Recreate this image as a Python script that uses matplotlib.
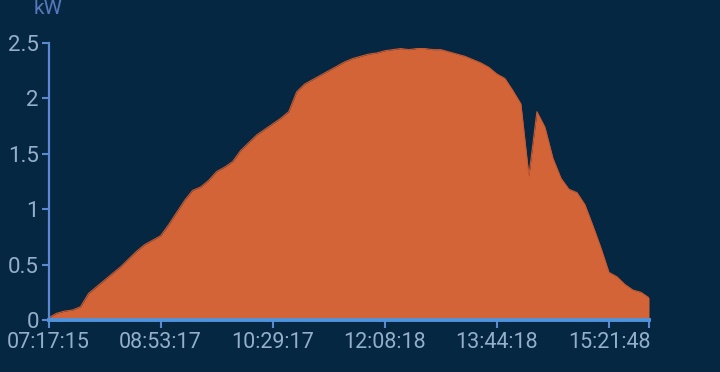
import matplotlib
matplotlib.use("Agg")
import matplotlib.pyplot as plt
import numpy as np

# power readings (kW), one per sample; labels every 14 samples
power_kw = [
    0.02, 0.06, 0.08, 0.09, 0.12, 0.24, 0.30, 0.36, 0.42, 0.48,
    0.55, 0.62, 0.68, 0.72, 0.76, 0.86, 0.97, 1.08, 1.17, 1.20,
    1.26, 1.34, 1.38, 1.43, 1.53, 1.60, 1.67, 1.72, 1.77, 1.82,
    1.88, 2.06, 2.13, 2.17, 2.21, 2.25, 2.29, 2.33, 2.36, 2.38,
    2.40, 2.41, 2.43, 2.44, 2.45, 2.44, 2.45, 2.45, 2.44, 2.44,
    2.42, 2.40, 2.38, 2.35, 2.32, 2.28, 2.22, 2.18, 2.07, 1.95,
    1.30, 1.88, 1.74, 1.46, 1.28, 1.18, 1.15, 1.04, 0.85, 0.65,
    0.43, 0.39, 0.32, 0.27, 0.25, 0.20,
]
time_labels = ["07:17:15", "08:53:17", "10:29:17", "12:08:18", "13:44:18", "15:21:48"]
label_step = 14
y_ticks = [0, 0.5, 1, 1.5, 2, 2.5]
y_tick_labels = ["0", "0.5", "1", "1.5", "2", "2.5"]

bg = "#062741"
fill_col = "#d26437"
axis_col = "#5a88d2"
text_col = "#93afcb"

fig = plt.figure(figsize=(7.2, 3.72), dpi=100)
fig.patch.set_facecolor(bg)
ax = fig.add_axes([48.5 / 720, 52 / 372, (649 - 48.5) / 720, 277 / 372])
ax.set_facecolor(bg)

x = np.arange(len(power_kw))
ax.fill_between(x, 0, power_kw, color=fill_col, lw=0)
ax.plot(x, power_kw, color="#c85a30", lw=0.8)

ax.set_xlim(0, len(power_kw) - 1)
ax.set_ylim(0, 2.5)

for s in ["top", "right"]:
    ax.spines[s].set_visible(False)
ax.spines["left"].set_color(axis_col)
ax.spines["left"].set_linewidth(1.6)
ax.spines["bottom"].set_color("#4f93dc")
ax.spines["bottom"].set_linewidth(2.8)
ax.spines["bottom"].set_zorder(5)

ax.set_yticks(y_ticks)
ax.set_yticklabels(y_tick_labels)
ticks_x = list(range(0, len(power_kw), label_step))
ax.set_xticks(ticks_x)
ax.set_xticklabels(time_labels)
# extra tick mark at the right end of the axis
ax.set_xticks([len(power_kw) - 1], minor=True)

ax.tick_params(axis="y", colors=axis_col, labelcolor=text_col, labelsize=16,
               length=5, width=1.5, pad=2)
ax.tick_params(axis="x", which="both", colors=axis_col, labelcolor=text_col,
               labelsize=15.5, length=6, width=1.5, pad=3)
for lbl in ax.get_xticklabels() + ax.get_yticklabels():
    lbl.set_family("Roboto")

fig.text(34 / 720, 1 - 14 / 372, "kW", color="#5878bd", fontsize=15,
         family="Roboto", va="baseline")

fig.savefig("out.png", dpi=100, facecolor=bg)
